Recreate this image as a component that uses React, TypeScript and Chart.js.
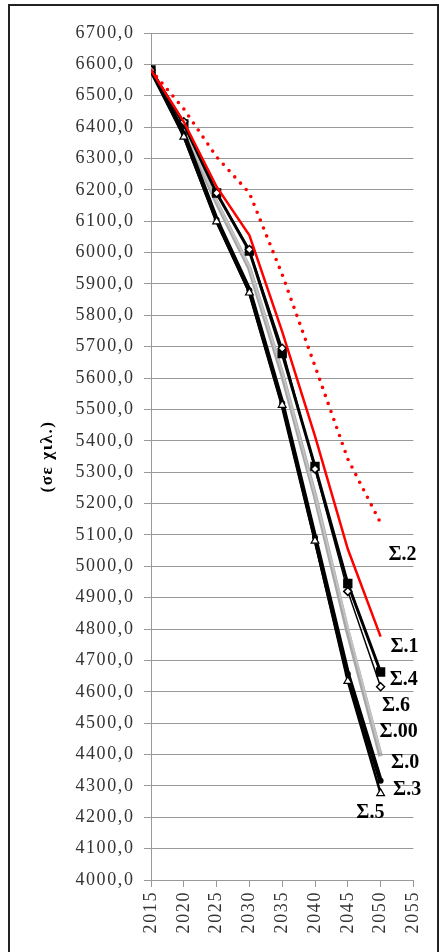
import React, { useEffect, useRef } from "react";
import { Chart, registerables } from "chart.js";

Chart.register(...registerables);

const years = [2015, 2020, 2025, 2030, 2035, 2040, 2045, 2050];
const s2 = [6582, 6458, 6305, 6190, 5930, 5638, 5342, 5138];
const s1 = [6582, 6417, 6210, 6055, 5748, 5415, 5055, 4776];
const s4 = [6582, 6410, 6190, 6005, 5678, 5318, 4945, 4663];
const s6 = [6582, 6417, 6190, 6010, 5695, 5310, 4920, 4616];
const s00 = [6582, 6398, 6165, 5955, 5620, 5230, 4805, 4405];
const s0 = [6582, 6395, 6160, 5950, 5612, 5225, 4790, 4395];
const s3 = [6582, 6378, 6105, 5880, 5520, 5092, 4657, 4316];
const s5 = [6582, 6369, 6099, 5872, 5514, 5081, 4634, 4276];

const yMin = 4000;
const yMax = 6700;
const yStep = 100;
const xMin = 2015;
const xMax = 2055;
const xStep = 5;
const yTitle = "(σε χιλ.)";

const labelNames = ["Σ.2", "Σ.1", "Σ.4", "Σ.6", "Σ.00", "Σ.0", "Σ.3", "Σ.5"];
const labelYears = [2051.2, 2051.5, 2051.4, 2050.2, 2049.85, 2051.6, 2051.9, 2046.3];
const labelValues = [5037, 4744, 4637, 4556, 4471, 4372, 4287, 4213];

const pts = (vals: number[]) => years.map((x, i) => ({ x, y: vals[i] }));

const spacing: any = {
  id: "spacing",
  beforeDraw(chart: any) {
    (chart.ctx as any).letterSpacing = "1.6px";
  },
};

const seriesLabels: any = {
  id: "seriesLabels",
  afterDraw(chart: any) {
    const { ctx, scales } = chart;
    ctx.save();
    (ctx as any).letterSpacing = "0px";
    ctx.font = "bold 20px 'Liberation Serif'";
    ctx.fillStyle = "#000";
    ctx.textAlign = "left";
    ctx.textBaseline = "middle";
    labelNames.forEach((name, i) => {
      const x = scales.x.getPixelForValue(labelYears[i]);
      const y = scales.y.getPixelForValue(labelValues[i]);
      ctx.fillText(name, x, y);
    });
    ctx.restore();
  },
};

export default function App() {
  const ref = useRef<HTMLCanvasElement | null>(null);
  useEffect(() => {
    if (!ref.current) return;
    const tickFont = { family: "'Liberation Serif'", size: 18 };
    const chart = new Chart(ref.current, {
      type: "line",
      data: {
        datasets: [
          {
            label: "Σ.2",
            data: pts(s2),
            borderColor: "#ff0000",
            borderWidth: 3.6,
            borderDash: [0, 8.5],
            borderCapStyle: "round",
            pointRadius: 0,
            fill: false,
          },
          {
            label: "Σ.1",
            data: pts(s1),
            borderColor: "#ff0000",
            borderWidth: 2.5,
            pointRadius: 0,
          },
          {
            label: "Σ.6",
            data: pts(s6),
            borderColor: "#000",
            borderWidth: 1.5,
            pointStyle: "rectRot",
            pointRadius: 4,
            pointBackgroundColor: "#fff",
            pointBorderColor: "#000",
            pointBorderWidth: 1.5,
          },
          {
            label: "Σ.4",
            data: pts(s4),
            borderColor: "#000",
            borderWidth: 3,
            pointStyle: "rect",
            pointRadius: 4.5,
            pointBackgroundColor: "#000",
            pointBorderColor: "#000",
          },
          {
            label: "Σ.5",
            data: pts(s5),
            borderColor: "#000",
            borderWidth: 2.5,
            pointStyle: "triangle",
            pointRadius: 4.5,
            pointBackgroundColor: "#fff",
            pointBorderColor: "#000",
            pointBorderWidth: 1.2,
          },
          {
            label: "Σ.3",
            data: pts(s3),
            borderColor: "#000",
            borderWidth: 4.5,
            pointStyle: "circle",
            pointRadius: 3,
            pointBorderWidth: 0,
            pointBackgroundColor: "#000",
            pointBorderColor: "#000",
          },
          {
            label: "Σ.00",
            data: pts(s00),
            borderColor: "#c4c4c4",
            borderWidth: 2,
            pointRadius: 0,
          },
          {
            label: "Σ.0",
            data: pts(s0),
            borderColor: "#a6a6a6",
            borderWidth: 4.5,
            pointRadius: 0,
          },
        ],
      },
      options: {
        responsive: false,
        animation: false,
        devicePixelRatio: 1,
        layout: { padding: { left: 0, right: 23, top: 33, bottom: 0 } },
        plugins: {
          legend: { display: false },
          tooltip: { enabled: false },
        },
        scales: {
          x: {
            type: "linear",
            min: xMin,
            max: xMax,
            afterFit: (s: any) => {
              s.height = 72;
            },
            ticks: {
              stepSize: xStep,
              minRotation: 90,
              maxRotation: 90,
              padding: 4,
              color: "#333",
              font: tickFont,
              callback: (v: any) => String(v),
            },
            grid: {
              display: true,
              drawOnChartArea: false,
              drawTicks: true,
              tickLength: 7,
              color: "#999",
            },
            border: { display: true, color: "#999", width: 1 },
          },
          y: {
            type: "linear",
            min: yMin,
            max: yMax,
            afterFit: (s: any) => {
              s.width = 151;
            },
            ticks: {
              stepSize: yStep,
              padding: 9.5,
              color: "#333",
              font: tickFont,
              callback: (v: any) => Number(v).toFixed(1).replace(".", ","),
            },
            grid: {
              color: "#999",
              lineWidth: 1,
              tickLength: 7,
            },
            border: { display: true, color: "#999", width: 1 },
            title: {
              display: true,
              text: yTitle,
              color: "#000",
              font: { family: "'Liberation Serif'", size: 17, weight: "bold" },
              padding: { top: 37, bottom: 0 },
            },
          },
        },
      },
      plugins: [spacing, seriesLabels],
    } as any);
    return () => chart.destroy();
  }, []);

  return (
    <div
      style={{
        position: "fixed",
        left: 0,
        top: 0,
        width: 439,
        height: 952,
        overflow: "hidden",
        background: "#fff",
      }}
    >
      <canvas
        ref={ref}
        width={439}
        height={952}
        style={{ position: "absolute", left: 0, top: 0, width: 439, height: 952 }}
      />
      <div
        style={{
          position: "absolute",
          left: 8,
          top: 3.5,
          width: 431,
          height: 970,
          border: "2px solid #222",
          boxSizing: "border-box",
          pointerEvents: "none",
        }}
      />
    </div>
  );
}
